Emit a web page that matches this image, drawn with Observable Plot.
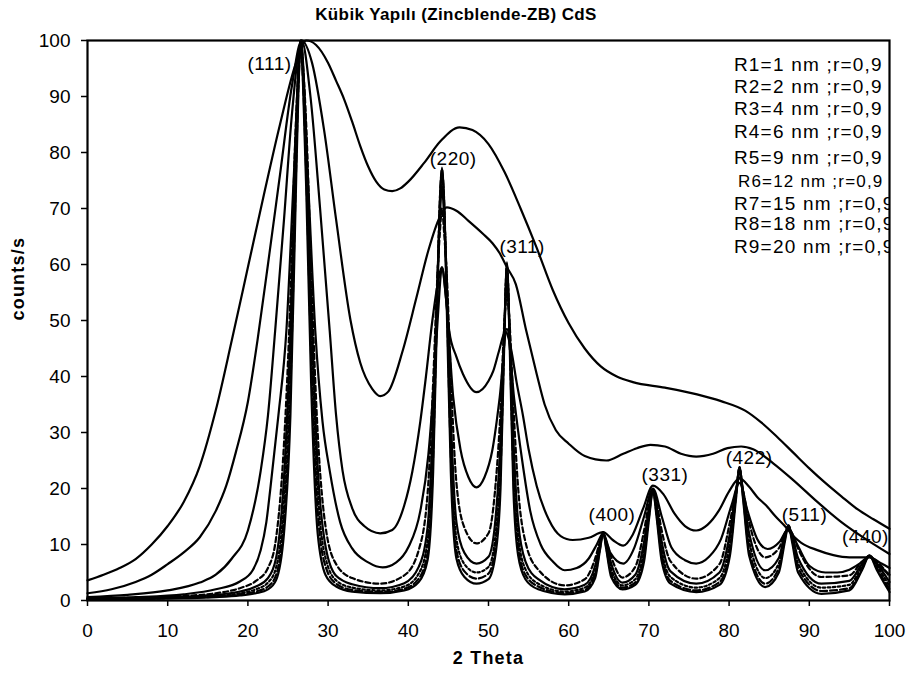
<!DOCTYPE html>
<html>
<head>
<meta charset="utf-8">
<script src="https://cdn.jsdelivr.net/npm/d3@7"></script>
<script src="https://cdn.jsdelivr.net/npm/@observablehq/plot@0.6"></script>
<style>
  html, body { margin: 0; padding: 0; background: #fff; }
  body { width: 912px; height: 684px; overflow: hidden; font-family: "Liberation Sans", Arial, sans-serif; }
  #title { height: 28px; line-height: 30px; text-align: center; font-weight: bold; font-size: 17px; letter-spacing: 0.4px; color: #000; }
</style>
</head>
<body>
<div id="title">Kübik Yapılı (Zincblende-ZB) CdS</div>
<div id="chart"></div>
<script>
// ---------------- data ----------------
const xTicks = [0, 10, 20, 30, 40, 50, 60, 70, 80, 90, 100];
const yTicks = [0, 10, 20, 30, 40, 50, 60, 70, 80, 90, 100];

const seriesNames = ["R1", "R2", "R3", "R4", "R5", "R6", "R7", "R8", "R9"];
const legendLabels = ["R1=1 nm ;r=0,9", "R2=2 nm ;r=0,9", "R3=4 nm ;r=0,9", "R4=6 nm ;r=0,9", "R5=9 nm ;r=0,9",
  "R6=12 nm ;r=0,9", "R7=15 nm ;r=0,9", "R8=18 nm ;r=0,9", "R9=20 nm ;r=0,9"];

const peakLabels = ["(111)", "(220)", "(311)", "(400)", "(331)", "(422)", "(511)", "(440)"];
const peakLabelTheta = [22.7, 45.6, 54.2, 65.4, 72.0, 82.5, 89.4, 97.0];
const peakLabelCounts = [95.9, 78.8, 63.1, 15.2, 22.5, 25.4, 15.2, 11.3];

// R1 = 1 nm
const thetaR1 = [0, 2, 4, 6, 8, 10, 12, 14, 16, 18, 20, 22, 24, 26, 27.3, 28.5, 30, 31, 32, 33, 34, 35, 36, 37, 38, 39, 40, 42, 44, 46.4, 48, 50, 52, 54, 56, 58, 60, 62, 64, 66, 68, 72, 76, 79, 82, 84, 86, 88, 90, 92, 94, 96, 98, 100];
const countsR1 = [3.6, 4.6, 5.8, 7.4, 10, 13.3, 17.6, 24, 34, 46.5, 59.5, 72.5, 85, 96, 100, 99.2, 96, 92.8, 89.5, 85.5, 81.2, 77.5, 74.8, 73.4, 73.1, 73.6, 74.8, 78.2, 82, 84.5, 84, 81.5, 76.5, 70, 63, 55.5, 49.5, 45, 41.8, 40, 39, 38, 36.8, 35.6, 33.9, 31.8, 29.2, 26.4, 23.6, 21, 18.6, 16.3, 14.5, 12.8];

// R2 = 2 nm
const thetaR2 = [0, 3, 6, 8, 10, 12, 14, 16, 17.3, 18.5, 20, 21.2, 22.5, 24, 25.5, 26.7, 28, 29.5, 31, 32.8, 34, 35.5, 36.5, 37.5, 39.3, 41, 42.5, 43.9, 44.8, 46, 47.5, 49.3, 50.5, 51.4, 52.3, 53.4, 54.7, 56, 57, 58.4, 60, 62, 64.7, 66.8, 68.5, 70.2, 72, 74, 75.9, 78, 79.8, 81.5, 83, 85.5, 88, 91, 94, 97, 100];
const countsR2 = [1.3, 2.0, 3.3, 4.6, 6.5, 8.6, 11.3, 16, 20.5, 26.5, 35.5, 46.5, 60, 76, 92, 100, 96, 84, 68, 50, 42.5, 37.8, 36.5, 37.3, 44.6, 54, 62.5, 68.4, 70.2, 69.6, 67.8, 65.5, 63.8, 62, 59.5, 56.5, 48.2, 40.5, 35, 30.4, 28, 25.8, 25, 26.2, 27.2, 27.8, 27.5, 26.2, 25.7, 26.2, 27.2, 27.5, 27, 24.5, 21.5, 17.6, 14, 11, 8.3];

// R3 = 4 nm
const thetaR3 = [0, 5, 10, 14, 16, 18, 20, 21.6, 22.5, 23.4, 24.5, 25.5, 26.7, 27.8, 29, 30.2, 31, 31.8, 33, 34.5, 36.5, 38, 39.5, 40.5, 41.5, 42.2, 43, 43.6, 44.2, 44.7, 45.1, 46, 46.8, 48.5, 50, 50.6, 51.3, 52.1, 52.8, 53.5, 54.3, 55, 56, 57.5, 59, 60.5, 62.5, 64.3, 65.5, 66.8, 68, 69.3, 70.5, 71.8, 73.2, 74.5, 75.9, 77.3, 78.7, 80, 81.3, 82.5, 83.5, 84.6, 85.8, 87, 88, 89, 91, 93, 95, 97.5, 99, 100];
const countsR3 = [0.6, 1.0, 1.8, 3.2, 4.6, 7.5, 12.5, 23.2, 33, 48.2, 68, 87, 100, 90, 70, 48.2, 33, 23.2, 16.5, 13.3, 12, 12.6, 17, 23, 32, 40, 50, 56, 59.5, 54, 48.2, 43.5, 40.5, 37.2, 39.2, 41, 44.5, 48, 45, 39, 33, 27, 20.5, 14.5, 11.5, 10.8, 11.2, 12.2, 10.8, 9.8, 11.8, 16.5, 20.5, 19, 15.5, 13.3, 12.5, 13.5, 16, 19.5, 21.8, 20.3, 18.5, 17, 15, 13.2, 11.5, 10.3, 9, 8.1, 7.7, 7.7, 6.6, 5.8];

// R4 = 6 nm
const thetaR4 = [0, 6, 12, 16, 19, 20.6, 21.6, 22.3, 22.8, 23.8, 24.8, 25.7, 26.6, 27.5, 28.4, 29.3, 30.2, 31.5, 33, 35, 36.8, 38.5, 40, 41.5, 42.5, 43.1, 43.7, 44.2, 44.7, 45.6, 46.5, 47.5, 48.5, 49.5, 50.5, 51.4, 52.3, 53.2, 54.2, 55.2, 56.5, 58, 59.5, 61, 62.5, 63.5, 64.3, 65.2, 66.8, 68.2, 69.4, 70.5, 71.6, 72.8, 74.5, 75.9, 77.5, 79, 80.3, 81.3, 82.3, 83.5, 84.8, 86.3, 87.4, 88.5, 90, 92, 93.5, 95, 96.5, 97.5, 98.5, 100];
const countsR4 = [0.4, 0.6, 1.1, 2.0, 3.4, 5.4, 9, 14, 20, 33, 48.2, 75, 100, 75, 48.2, 32, 23.2, 14, 9.3, 6.8, 5.9, 6.8, 9.5, 16, 26, 37, 51, 59.5, 54, 36.3, 27, 22, 20.2, 22, 27, 36.3, 48.5, 36, 25, 16, 10, 7, 5.4, 5.8, 7.5, 10, 12, 8.5, 6.6, 9.5, 15, 20, 15, 9.5, 7.2, 6.6, 7.8, 11, 17, 21, 16, 11, 9.2, 10.5, 12.8, 10, 6.2, 5, 5, 5.5, 6.8, 7.8, 6.5, 4.6];

// R5..R9 share one 2-theta sampling
const thetaFine = [0, 6, 12, 16, 19, 21, 22.5, 23.5, 24.5, 25.3, 25.9, 26.3, 26.6, 26.9, 27.3, 27.9, 28.7, 29.7, 31, 33, 36.5, 39.5, 41.3, 42.4, 43.1, 43.6, 43.95, 44.2, 44.45, 44.8, 45.3, 46, 47, 48.5, 50, 50.9, 51.5, 51.95, 52.3, 52.65, 53.1, 53.7, 54.6, 56.2, 59.5, 62, 63.3, 63.9, 64.3, 64.7, 65.3, 66.7, 68.3, 69.4, 70.05, 70.5, 70.95, 71.6, 72.7, 75.9, 78.8, 80.1, 80.85, 81.3, 81.75, 82.5, 84.5, 86.2, 86.95, 87.4, 87.85, 88.6, 91.5, 95, 96.6, 97.5, 98.4, 100];
const countsR5 = [0.35, 0.5, 0.8, 1.3, 2.2, 3.5, 5.8, 11, 28, 54, 82, 95, 100, 95, 84, 58, 30, 13, 6.5, 4.0, 3.0, 4.5, 9, 19, 39, 57, 66, 70, 66, 58, 40, 21, 13, 10.2, 12, 21, 34, 49, 55, 49, 35, 20, 10.5, 5.5, 2.7, 3.8, 7.5, 10.5, 11.8, 10.5, 7.8, 4.1, 6, 12.5, 17.5, 19.5, 17.5, 12.5, 7, 3.9, 6.5, 14, 19.5, 22, 19.5, 14, 7.7, 9.3, 12, 12.8, 12, 9.3, 4.2, 4.5, 7, 7.8, 7, 4.3];
const countsR6 = [0.3, 0.4, 0.65, 1.0, 1.6, 2.5, 4, 7.5, 22, 48, 78, 94, 100, 94, 81, 53, 24, 9.5, 4.4, 2.9, 2.2, 3.1, 6, 13, 33, 56, 69, 74, 69, 57, 33, 14, 8.5, 6.6, 7.8, 15, 29, 48, 58, 48, 29, 14, 7, 3.8, 2.0, 2.8, 6.2, 10, 12, 10, 6.6, 3.2, 4.6, 10.5, 16.8, 19.8, 16.8, 10.5, 5.2, 3.0, 5, 12, 19.5, 23, 19.5, 12, 5.4, 7.6, 11.8, 13.2, 11.8, 7.6, 3.0, 3.5, 6.6, 8, 6.6, 3.3];
const countsR7 = [0.25, 0.35, 0.55, 0.8, 1.3, 2, 3.2, 5.8, 18, 43, 75, 93, 100, 93, 78, 48, 20, 7.5, 3.6, 2.3, 1.8, 2.5, 4.8, 10.5, 29, 55, 71, 76, 71, 56, 29, 11, 6.5, 5.0, 6, 12, 26, 47, 59.5, 47, 26, 11.5, 5.6, 3.0, 1.6, 2.3, 5.3, 9.7, 12.1, 9.7, 5.6, 2.7, 3.8, 9, 16, 19.8, 16, 9, 4.2, 2.3, 4, 10.5, 19, 23.5, 19, 10.5, 4.0, 6.6, 11.4, 13.4, 11.4, 6.6, 2.3, 2.8, 6.2, 8, 6.2, 2.6];
const countsR8 = [0.2, 0.3, 0.5, 0.7, 1.1, 1.6, 2.5, 4.5, 15, 38, 71, 92, 100, 92, 75, 43, 16, 6, 3, 1.9, 1.5, 2.1, 3.9, 8.5, 26, 54, 72, 77, 72, 54, 26, 9, 5.2, 3.9, 4.8, 10, 23, 46, 60, 46, 23, 9.5, 4.6, 2.5, 1.3, 1.9, 4.6, 9.3, 12.2, 9.3, 4.8, 2.3, 3.2, 8, 15.5, 19.8, 15.5, 8, 3.5, 1.8, 3.3, 9, 18.5, 23.8, 18.5, 9, 3.0, 5.8, 11, 13.4, 11, 5.8, 1.7, 2.2, 5.8, 8, 5.8, 2.0];
const countsR9 = [0.2, 0.25, 0.4, 0.6, 0.9, 1.3, 2.0, 3.6, 12, 33, 68, 91, 100, 91, 72, 38, 12, 4.5, 2.5, 1.6, 1.3, 1.8, 3.3, 7.2, 23, 52, 72, 77.3, 72, 52, 23, 7.5, 4.2, 3.0, 3.8, 8.5, 20, 45, 60.4, 45, 20, 8, 3.8, 2.0, 1.1, 1.6, 4, 9, 12.2, 9, 4.2, 2.0, 2.8, 7, 15, 19.8, 15, 7, 3, 1.5, 2.8, 8, 18, 23.8, 18, 8, 2.4, 5, 10.5, 13.4, 10.5, 5, 1.2, 1.8, 5.5, 8, 5.5, 1.5];

// ---------------- layout / style ----------------
const seriesTheta = [thetaR1, thetaR2, thetaR3, thetaR4, thetaFine, thetaFine, thetaFine, thetaFine, thetaFine];
const seriesCounts = [countsR1, countsR2, countsR3, countsR4, countsR5, countsR6, countsR7, countsR8, countsR9];
const seriesDash = [null, null, null, null, "5,3", null, "2.5,2.5", "7,3", null];

const legendX = 80.6;                 // in 2-theta units (left edge of legend text)
const legendY = [95.7, 91.8, 87.8, 83.6, 79.0, 74.9, 70.8, 67.3, 63.2];
const legendSize = [19, 19, 19, 19, 19, 17, 19, 19, 19];

const W = 912, H = 656;
const marks = [];

seriesNames.forEach((name, k) => {
  const rows = seriesTheta[k].map((t, i) => ({series: name, theta: t, counts: seriesCounts[k][i]}));
  marks.push(Plot.line(rows, {
    x: "theta", y: "counts", curve: "monotone-x",
    stroke: "#000", strokeWidth: 2.2,
    strokeDasharray: seriesDash[k] || undefined,
    strokeLinejoin: "round"
  }));
});

const peakRows = peakLabels.map((t, i) => ({label: t, theta: peakLabelTheta[i], counts: peakLabelCounts[i]}));
const legendRows = legendLabels.map((t, i) => ({label: t, y: legendY[i], size: legendSize[i]}));

const chart = Plot.plot({
  width: W,
  height: H,
  marginTop: 12,
  marginBottom: 84,
  marginLeft: 87,
  marginRight: 23,
  style: {fontFamily: "'Liberation Sans', Arial, sans-serif", fontSize: "19px", color: "#000", background: "#fff"},
  x: {domain: [0, 100], ticks: xTicks, label: null},
  y: {domain: [0, 100], ticks: yTicks, label: null},
  marks: [
    Plot.text(peakRows, {x: "theta", y: "counts", text: "label", fontSize: 19, fill: "#000", className: "peaklab"}),
    ...marks,
    Plot.text(legendRows.filter(d => d.size === 19), {x: () => legendX, y: "y", text: "label", textAnchor: "start", fontSize: 19, fill: "#000", clip: true, className: "leglab"}),
    Plot.text(legendRows.filter(d => d.size === 17), {x: () => legendX + 0.5, y: "y", text: "label", textAnchor: "start", fontSize: 17, fill: "#000", clip: true, className: "leglab"}),
    Plot.axisX({ticks: xTicks, tickSize: 6, tickPadding: 17, fontSize: 19, strokeWidth: 1.5, label: null}),
    Plot.axisY({ticks: yTicks, tickSize: 6, tickPadding: 11, fontSize: 19, strokeWidth: 1.5, label: null}),
    Plot.frame({stroke: "#000", strokeWidth: 2.2}),
    Plot.text(["2 Theta"], {frameAnchor: "bottom", dy: 63, fontSize: 18, fontWeight: "bold", fill: "#000", className: "axlab"}),
    Plot.text(["counts/s"], {frameAnchor: "left", dx: -69, rotate: -90, fontSize: 18, fontWeight: "bold", fill: "#000", className: "axlab"})
  ]
});

document.getElementById("chart").appendChild(chart);
chart.querySelectorAll(".leglab text").forEach(t => t.setAttribute("letter-spacing", "1.2"));
chart.querySelectorAll(".peaklab text").forEach(t => t.setAttribute("letter-spacing", "0.5"));
chart.querySelectorAll(".axlab text").forEach(t => t.setAttribute("letter-spacing", "1.2"));
</script>
</body>
</html>
